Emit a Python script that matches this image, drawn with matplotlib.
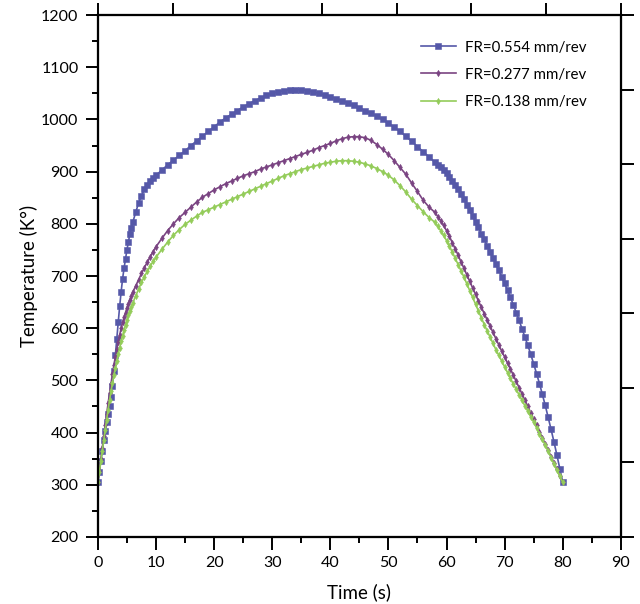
import matplotlib
matplotlib.use("Agg")
import matplotlib.pyplot as plt
import numpy as np

plt.rcParams["font.family"] = ["Lato", "DejaVu Sans"]

# sampled finer where the curves are steep
time_s = np.concatenate([np.arange(0, 6, 0.25), np.arange(6, 10, 0.5),
                         np.arange(10, 58, 1.0), np.arange(58, 80.01, 0.5)])

temp_fr554 = [
    # 0 .. 5.75 s
    305, 325, 345, 365, 385, 403, 420, 435, 450, 468, 490, 518,
    548, 580, 612, 643, 670, 695, 715, 733, 750, 766, 780, 792,
    # 6 .. 9.5 s
    803, 822, 840, 854, 866, 875, 882, 888,
    # 10 .. 57 s
    893, 903, 913, 922, 931, 940, 950, 959, 968, 977,
    986, 995, 1003, 1010, 1017, 1024, 1030, 1036, 1041, 1046,
    1050, 1053, 1055, 1057, 1057, 1057, 1055, 1053, 1050, 1047,
    1044, 1040, 1036, 1032, 1027, 1022, 1017, 1012, 1006, 1000,
    993, 985, 977, 968, 958, 948, 938, 928,
    # 58 .. 80 s
    918, 913, 908, 903, 897, 890, 882, 874, 866, 857, 847, 837,
    826, 815, 804, 793, 781, 770, 758, 747, 735, 723, 711, 699,
    686, 673, 659, 645, 630, 615, 599, 583, 567, 550, 532, 513,
    494, 473, 452, 429, 406, 382, 357, 331, 305,
]
temp_fr277 = [
    305, 327, 349, 371, 393, 414, 435, 456, 475, 494, 512, 529,
    545, 560, 574, 587, 600, 611, 621, 630, 639, 647, 655, 662,
    669, 681, 693, 705, 716, 727, 737, 747,
    756, 772, 787, 800, 812, 822, 832, 842, 851, 858,
    865, 871, 877, 882, 887, 892, 896, 900, 905, 909,
    913, 917, 921, 925, 929, 933, 937, 941, 946, 950,
    954, 959, 963, 966, 967, 967, 965, 960, 952, 943,
    933, 921, 908, 895, 878, 862, 845, 832,
    822, 814, 806, 797, 787, 776, 764, 752, 740, 727, 715, 702,
    690, 677, 665, 652, 640, 628, 616, 604, 592, 580, 568, 556,
    545, 533, 522, 510, 498, 486, 474, 462, 450, 438, 426, 414,
    402, 390, 378, 366, 354, 342, 330, 317, 305,
]
temp_fr138 = [
    305, 325, 345, 365, 385, 405, 425, 444, 462, 479, 495, 510,
    524, 538, 551, 563, 575, 586, 597, 607, 616, 625, 633, 641,
    648, 662, 675, 688, 699, 709, 719, 728,
    736, 751, 765, 778, 789, 799, 807, 815, 822, 827,
    832, 837, 842, 847, 852, 857, 862, 867, 872, 877,
    882, 887, 892, 896, 900, 904, 907, 910, 913, 916,
    918, 920, 921, 921, 920, 918, 915, 911, 906, 900,
    893, 884, 873, 861, 847, 835, 823, 812,
    803, 795, 787, 778, 768, 757, 746, 734, 722, 710, 698, 685,
    672, 659, 646, 633, 620, 607, 595, 583, 571, 559, 548, 537,
    526, 515, 504, 493, 483, 472, 462, 451, 441, 430, 420, 409,
    398, 387, 376, 364, 352, 340, 328, 316, 305,
]

series = [
    ("FR=0.554 mm/rev", temp_fr554, "#5558A8", "s", 4.0),
    ("FR=0.277 mm/rev", temp_fr277, "#7A4482", "d", 3.2),
    ("FR=0.138 mm/rev", temp_fr138, "#94CC5A", "d", 3.2),
]

fig = plt.figure(figsize=(6.4, 6.04), dpi=100)
ax = fig.add_axes([0.153, 0.111, 0.817, 0.864])

for label, values, color, marker, size in series:
    ax.plot(time_s, values, color=color, lw=1.2, marker=marker,
            markersize=size, markeredgewidth=0.4, markeredgecolor=color,
            label=label)

ax.set_xlim(0, 90)
ax.set_ylim(200, 1200)
ax.set_xticks(np.arange(0, 91, 10))
ax.set_xticks(np.arange(0, 91, 5), minor=True)
ax.set_yticks(np.arange(200, 1201, 100))
ax.set_yticks(np.arange(200, 1201, 50), minor=True)
ax.tick_params(which="major", direction="out", length=9, width=1.4,
               labelsize=11.5, pad=5)
ax.tick_params(which="minor", direction="out", length=4, width=1.4)
for spine in ax.spines.values():
    spine.set_linewidth(1.5)

ax.set_xlabel("Time (s)", fontsize=13.5, labelpad=9)
ax.set_ylabel("Temperature (K°)", fontsize=13.5, labelpad=2)

# plain outward ticks on top and right, seven equal divisions
top = ax.twiny()
top.set_xlim(0, 7)
top.set_xticks(range(8))
top.tick_params(axis="x", direction="out", length=9, width=1.4, labeltop=False)
right = ax.twinx()
right.set_ylim(0, 7)
right.set_yticks(range(8))
right.tick_params(axis="y", direction="out", length=9, width=1.4, labelright=False)
for twin in (top, right):
    for spine in twin.spines.values():
        spine.set_linewidth(1.5)

ax.legend(loc="upper right", bbox_to_anchor=(0.94, 0.957), frameon=False,
          fontsize=10.8, handlelength=2.3, handletextpad=0.6,
          labelspacing=0.88, borderaxespad=0, borderpad=0.2)

fig.savefig("out.png", dpi=100)
